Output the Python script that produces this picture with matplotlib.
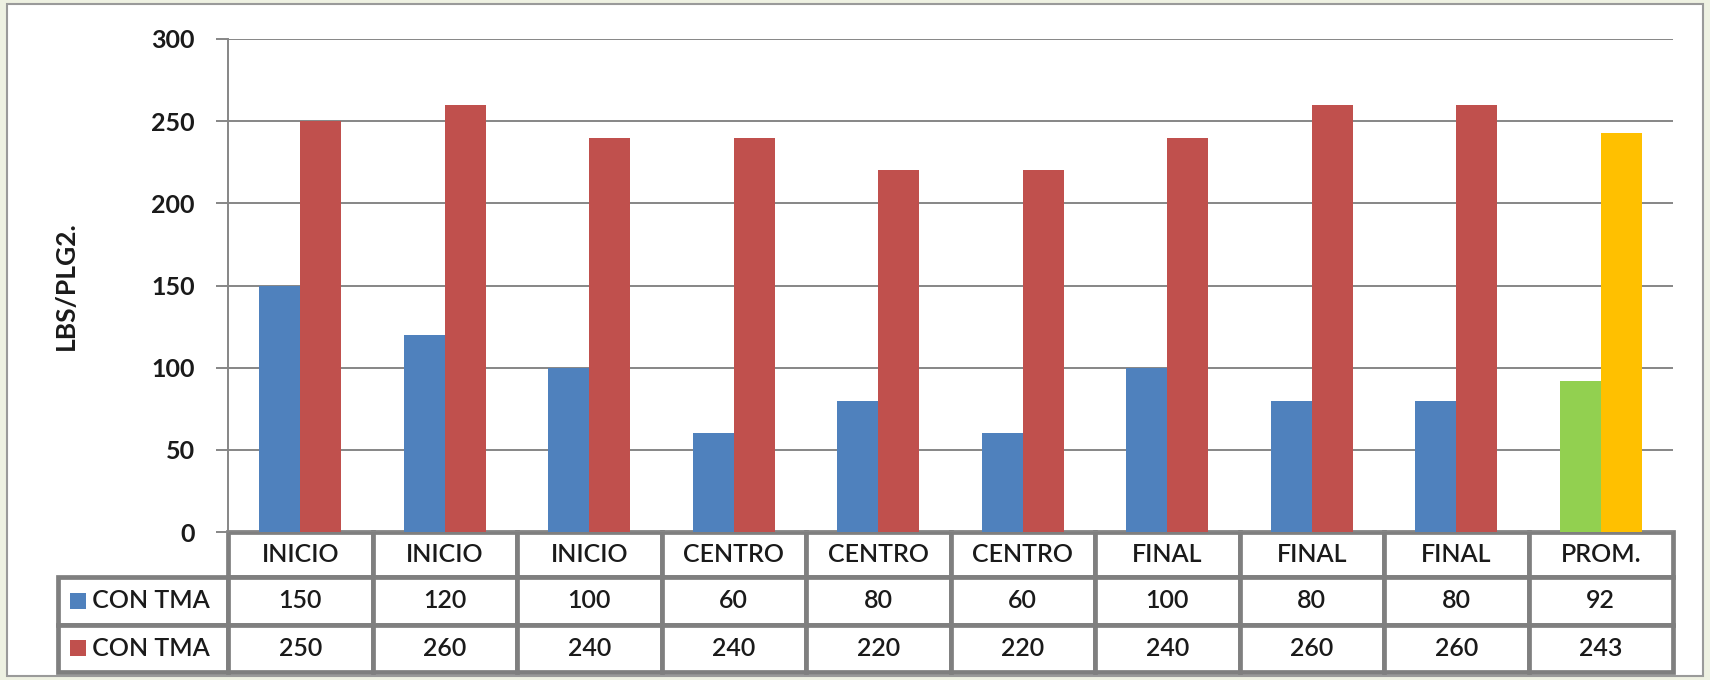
import numpy as np
import matplotlib
matplotlib.use("Agg")
import matplotlib.pyplot as plt
from matplotlib.patches import Rectangle
from matplotlib.transforms import IdentityTransform

# Data
categories = ["INICIO", "INICIO", "INICIO", "CENTRO", "CENTRO", "CENTRO",
              "FINAL", "FINAL", "FINAL", "PROM."]
series_a = [150, 120, 100, 60, 80, 60, 100, 80, 80, 92]
series_b = [250, 260, 240, 240, 220, 220, 240, 260, 260, 243]
series_names = ["CON TMA", "CON TMA"]
y_ticks = [0, 50, 100, 150, 200, 250, 300]
y_label = "LBS/PLG2."

BLUE, RED, GREEN, ORANGE = "#4F81BD", "#C0504D", "#92D050", "#FFC000"
GRID = "#868686"
FONT = "Lato"

W, H = 1710, 680
fig = plt.figure(figsize=(W / 100, H / 100), dpi=100)
fig.patch.set_facecolor("#EEF1E2")

# white panel with thin grey frame
panel = Rectangle((7 / W, 4 / H), (1703 - 7) / W, (676 - 4) / H,
                  transform=fig.transFigure, facecolor="white",
                  edgecolor="#9A9A9A", linewidth=1.5, zorder=-5)
fig.add_artist(panel)

ax_l, ax_r, ax_t, ax_b = 228, 1673, 39, 532
ax_w = ax_r - ax_l
ax = fig.add_axes([ax_l / W, 1 - ax_b / H, ax_w / W, (ax_b - ax_t) / H])
ax.set_facecolor("none")

x = np.arange(len(categories))
bw = 0.285
colors_a = [BLUE] * (len(categories) - 1) + [GREEN]
colors_b = [RED] * (len(categories) - 1) + [ORANGE]
ax.bar(x - bw / 2, series_a, width=bw, color=colors_a, zorder=3)
ax.bar(x + bw / 2, series_b, width=bw, color=colors_b, zorder=3)

ax.set_xlim(-0.5, len(categories) - 0.5)
ax.set_ylim(0, 300)
ax.set_yticks(y_ticks)
ax.set_yticklabels([str(t) for t in y_ticks], fontsize=18, fontweight="bold",
                   family=FONT, color="#1A1A1A")
ax.yaxis.grid(True, color=GRID, linewidth=1.4, zorder=1)
ax.tick_params(axis="y", length=9, width=1.4, color=GRID, pad=15)
ax.set_xticks([])
for s in ["top", "right", "bottom"]:
    ax.spines[s].set_visible(False)
ax.spines["left"].set_color(GRID)
ax.spines["left"].set_linewidth(1.4)

ax.set_ylabel(y_label, fontsize=19, fontweight="bold", family=FONT,
              color="#1A1A1A")
ax.yaxis.set_label_coords((78 - ax_l) / ax_w, 0.5)

# data table below the plot; first column holds the legend labels
tbl_h = (672 - ax_b) / (ax_b - ax_t)
lab_w = (ax_l - 58) / ax_w
ncol = len(categories)
cell_text = [["     " + series_names[0]] + [str(v) for v in series_a],
             ["     " + series_names[1]] + [str(v) for v in series_b]]
tbl = ax.table(cellText=cell_text, colLabels=[""] + categories,
               colWidths=[lab_w] + [1 / ncol] * ncol,
               cellLoc="center",
               bbox=[-lab_w, -tbl_h, 1 + lab_w, tbl_h])
tbl.auto_set_font_size(False)
for (r, c), cell in tbl.get_celld().items():
    cell.set_edgecolor("#7F7F7F")
    cell.set_linewidth(3.4)
    txt = cell.get_text()
    txt.set_fontsize(18)
    txt.set_family(FONT)
    txt.set_fontweight("semibold")
    txt.set_color("#1A1A1A")
    if c == 0:
        cell.PAD = 0.02
        cell.set_text_props(ha="left")
        cell._loc = "left"
    cell.set_height(45 / 140 if r == 0 else 47.5 / 140)
tbl.get_celld()[(0, 0)].visible_edges = ""
tbl.get_celld()[(0, 0)].set_facecolor("none")

# legend keys inside the label cells
fig.canvas.draw()
renderer = fig.canvas.get_renderer()
for r, col in [(1, BLUE), (2, RED)]:
    bb = tbl.get_celld()[(r, 0)].get_window_extent(renderer)
    size = 16
    cy = (bb.y0 + bb.y1) / 2
    fig.add_artist(Rectangle((bb.x0 + 12, cy - size / 2), size, size,
                             transform=IdentityTransform(), facecolor=col,
                             edgecolor="none", zorder=5))

fig.savefig("out.png", dpi=100, facecolor=fig.get_facecolor())
